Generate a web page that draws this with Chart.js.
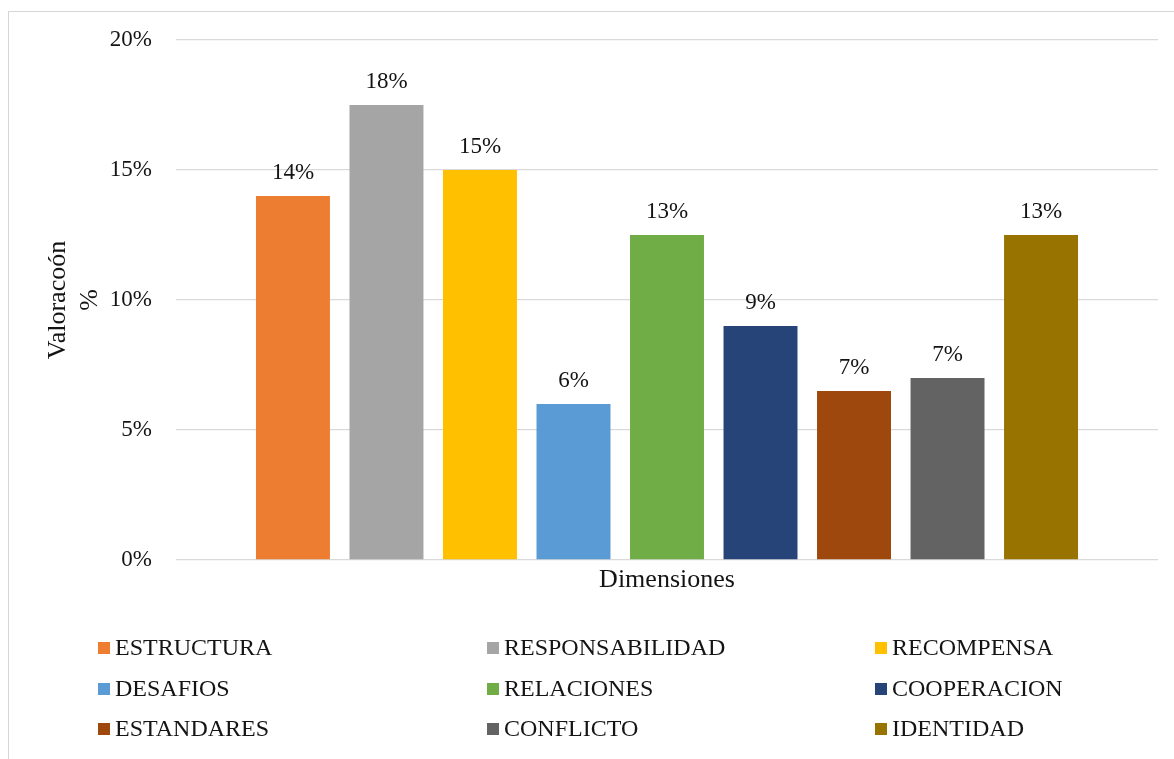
<!DOCTYPE html>
<html>
<head>
<meta charset="utf-8">
<script src="https://cdn.jsdelivr.net/npm/chart.js@4"></script>
<style>
  html, body { margin: 0; padding: 0; background: #fff; }
  #wrap { position: relative; width: 1174px; height: 759px; overflow: hidden; }
  #frame { position: absolute; left: 8px; top: 11px; width: 1200px; height: 800px;
           border-left: 1px solid #d6d6d6; border-top: 1px solid #d6d6d6; }
  #myChart { position: absolute; left: 0; top: 0; }
</style>
</head>
<body>
<div id="wrap">
  <div id="frame"></div>
  <canvas id="myChart" width="1174" height="759"></canvas>
</div>
<script>
var dimensiones = ["ESTRUCTURA", "RESPONSABILIDAD", "RECOMPENSA", "DESAFIOS", "RELACIONES",
                   "COOPERACION", "ESTANDARES", "CONFLICTO", "IDENTIDAD"];
var valores = [14, 17.5, 15, 6, 12.5, 9, 6.5, 7, 12.5];
var colores = ["#ED7D31", "#A5A5A5", "#FFC000", "#5B9BD5", "#70AD47",
               "#264478", "#9E480E", "#636363", "#997300"];
var yTicks = [0, 5, 10, 15, 20];

var serif = "'Liberation Serif', 'Times New Roman', serif";
var ink = "#141414";

var datasets = dimensiones.map(function (name, i) {
    return {
        label: name,
        data: [valores[i]],
        backgroundColor: colores[i],
        borderWidth: 0,
        categoryPercentage: 0.857,
        barPercentage: 0.791
    };
});

// value labels above each bar, rounded to whole percent
var barLabels = {
    id: 'barLabels',
    afterDatasetsDraw: function (chart) {
        var ctx = chart.ctx;
        ctx.save();
        ctx.font = "23px " + serif;
        ctx.fillStyle = ink;
        ctx.textAlign = 'center';
        ctx.textBaseline = 'alphabetic';
        chart.data.datasets.forEach(function (ds, i) {
            var bar = chart.getDatasetMeta(i).data[0];
            ctx.fillText(Math.round(ds.data[0]) + '%', bar.x, bar.y - 17);
        });
        ctx.restore();
    }
};

// three-column legend under the axis
var gridLegend = {
    id: 'gridLegend',
    afterDraw: function (chart) {
        var ctx = chart.ctx;
        var colX = [98, 487, 875];
        var rowY = [648, 689, 729];
        ctx.save();
        ctx.font = "24px " + serif;
        ctx.textBaseline = 'middle';
        ctx.textAlign = 'left';
        chart.data.datasets.forEach(function (ds, i) {
            var x = colX[i % 3], y = rowY[Math.floor(i / 3)];
            ctx.fillStyle = ds.backgroundColor;
            ctx.fillRect(x, y - 6, 12, 12);
            ctx.fillStyle = ink;
            ctx.fillText(ds.label, x + 17, y + 1);
        });
        ctx.restore();
    }
};

var ctx = document.getElementById("myChart").getContext("2d");
var myBarChart = new Chart(ctx, {
    type: 'bar',
    data: { labels: [''], datasets: datasets },
    options: {
        responsive: false,
        animation: false,
        layout: { padding: { left: 0, right: 16, top: 40, bottom: 159 } },
        plugins: {
            legend: { display: false },
            tooltip: { enabled: false }
        },
        scales: {
            x: {
                grid: { display: false },
                border: { display: false },
                ticks: { display: false },
                title: {
                    display: true,
                    text: 'Dimensiones',
                    color: ink,
                    font: { family: serif, size: 26 },
                    padding: { top: 0, bottom: 4 }
                },
                afterFit: function (scale) { scale.height = 40; }
            },
            y: {
                min: 0,
                max: 20,
                afterBuildTicks: function (scale) {
                    scale.ticks = yTicks.map(function (v) { return { value: v }; });
                },
                grid: { color: '#d9d9d9', lineWidth: 1.3, drawTicks: false },
                border: { display: false },
                ticks: {
                    padding: 24,
                    color: ink,
                    font: { family: serif, size: 23 },
                    callback: function (v) { return v + '%'; }
                },
                title: {
                    display: true,
                    text: ['Valoracoón', '%'],
                    color: ink,
                    font: { family: serif, size: 26, lineHeight: 1.2 },
                    padding: { top: 43, bottom: 0 }
                },
                afterFit: function (scale) { scale.width = 176; }
            }
        }
    },
    plugins: [barLabels, gridLegend]
});
</script>
</body>
</html>
